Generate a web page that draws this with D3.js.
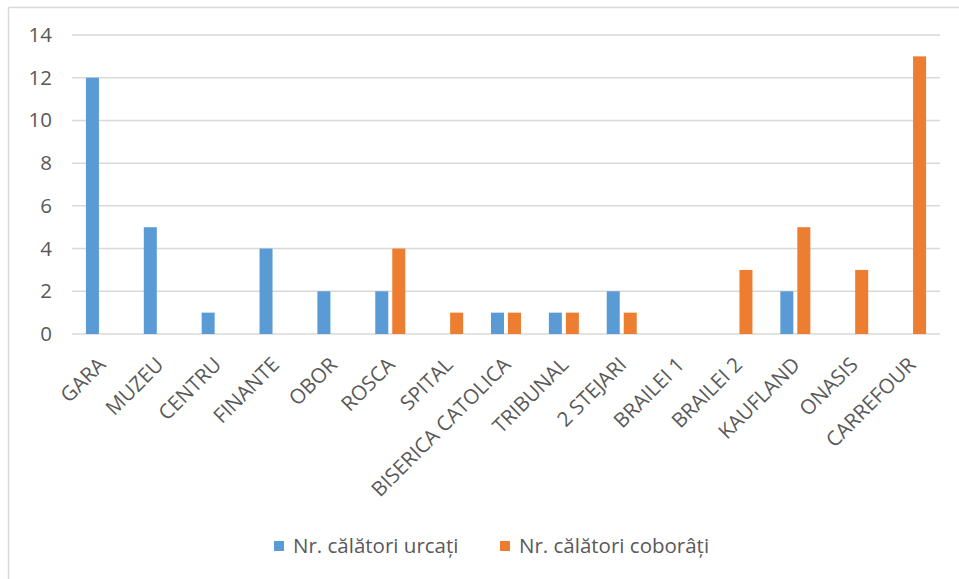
<!DOCTYPE html>
<html><head><meta charset="utf-8">
<script src="https://cdn.jsdelivr.net/npm/d3@7"></script>
<style>body{margin:0;background:#fff;}svg{display:block;font-family:"Open Sans", sans-serif;}</style>
</head><body>
<svg id="c" width="959" height="579"></svg>
<script>
const categories = ["GARA","MUZEU","CENTRU","FINANTE","OBOR","ROSCA","SPITAL","BISERICA CATOLICA","TRIBUNAL","2 STEJARI","BRAILEI 1","BRAILEI 2","KAUFLAND","ONASIS","CARREFOUR"];
const seriesNames = ["Nr. călători urcați","Nr. călători coborâți"];
const urcati =   [12,5,1,4,2,2,0,1,1,2,0,0,2,0,0];
const coborati = [0,0,0,0,0,4,1,1,1,1,0,3,5,3,13];
const yTicks = [0,2,4,6,8,10,12,14];
const colors = ["#5B9BD5","#ED7D31"];

(function(){
const FONT = "'Open Sans', sans-serif";
const FS = 20.5;
const svg = d3.select("#c");
svg.append("line").attr("x1",8.5).attr("x2",8.5).attr("y1",7.5).attr("y2",579).attr("stroke","#d9d9d9").attr("stroke-width",1.5);
svg.append("line").attr("x1",8.5).attr("x2",959).attr("y1",7.5).attr("y2",7.5).attr("stroke","#d9d9d9").attr("stroke-width",1.5);

const mLeft = 72, mRight = 940, mTop = 35, mBottom = 334;
const x = d3.scaleBand().domain(categories).range([mLeft,mRight]).padding(0);
const y = d3.scaleLinear().domain([0,14]).range([mBottom,mTop]);
const bw = x.bandwidth();
const x1 = d3.scaleBand().domain([0,1]).range([bw/2-15, bw/2+15]).paddingInner(0.235).paddingOuter(0);

svg.append("g").selectAll("line").data(yTicks).join("line")
  .attr("x1",mLeft).attr("x2",mRight)
  .attr("y1",d=>y(d)).attr("y2",d=>y(d))
  .attr("stroke","#d9d9d9").attr("stroke-width",1.5);

const yAxis = d3.axisLeft(y).tickValues(yTicks).tickSize(0).tickPadding(0);
const gy = svg.append("g").attr("transform",`translate(${52},0)`).call(yAxis);
gy.select(".domain").remove();
gy.selectAll("text").attr("font-size",FS).attr("fill","#595959").attr("font-family",FONT);

const data = [urcati, coborati];
data.forEach((vals,si)=>{
  svg.append("g").selectAll("rect").data(categories).join("rect")
    .attr("x",(c)=>x(c)+x1(si))
    .attr("width",x1.bandwidth())
    .attr("y",(c,i)=>y(vals[i]))
    .attr("height",(c,i)=>y(0)-y(vals[i]))
    .attr("fill",colors[si]);
});

const xAxis = d3.axisBottom(x).tickSize(0).tickPadding(0);
const gx = svg.append("g").attr("transform",`translate(0,${mBottom})`).call(xAxis);
gx.select(".domain").remove();
gx.selectAll("text")
  .attr("font-size",FS).attr("fill","#595959").attr("font-family",FONT)
  .attr("text-anchor","end")
  .attr("transform","translate(6,32) rotate(-45)")
  .attr("dy","0").attr("y",0).attr("x",0);

const legend = [{x:274, t:seriesNames[0], c:colors[0]},{x:500, t:seriesNames[1], c:colors[1]}];
const lg = svg.append("g");
legend.forEach(l=>{
  lg.append("rect").attr("x",l.x).attr("y",541).attr("width",10).attr("height",10).attr("fill",l.c);
  lg.append("text").attr("x",l.x+19).attr("y",546).attr("dy","0.35em").attr("font-size",FS).attr("fill","#595959").attr("font-family",FONT).text(l.t);
});
})();
</script>
</body></html>
